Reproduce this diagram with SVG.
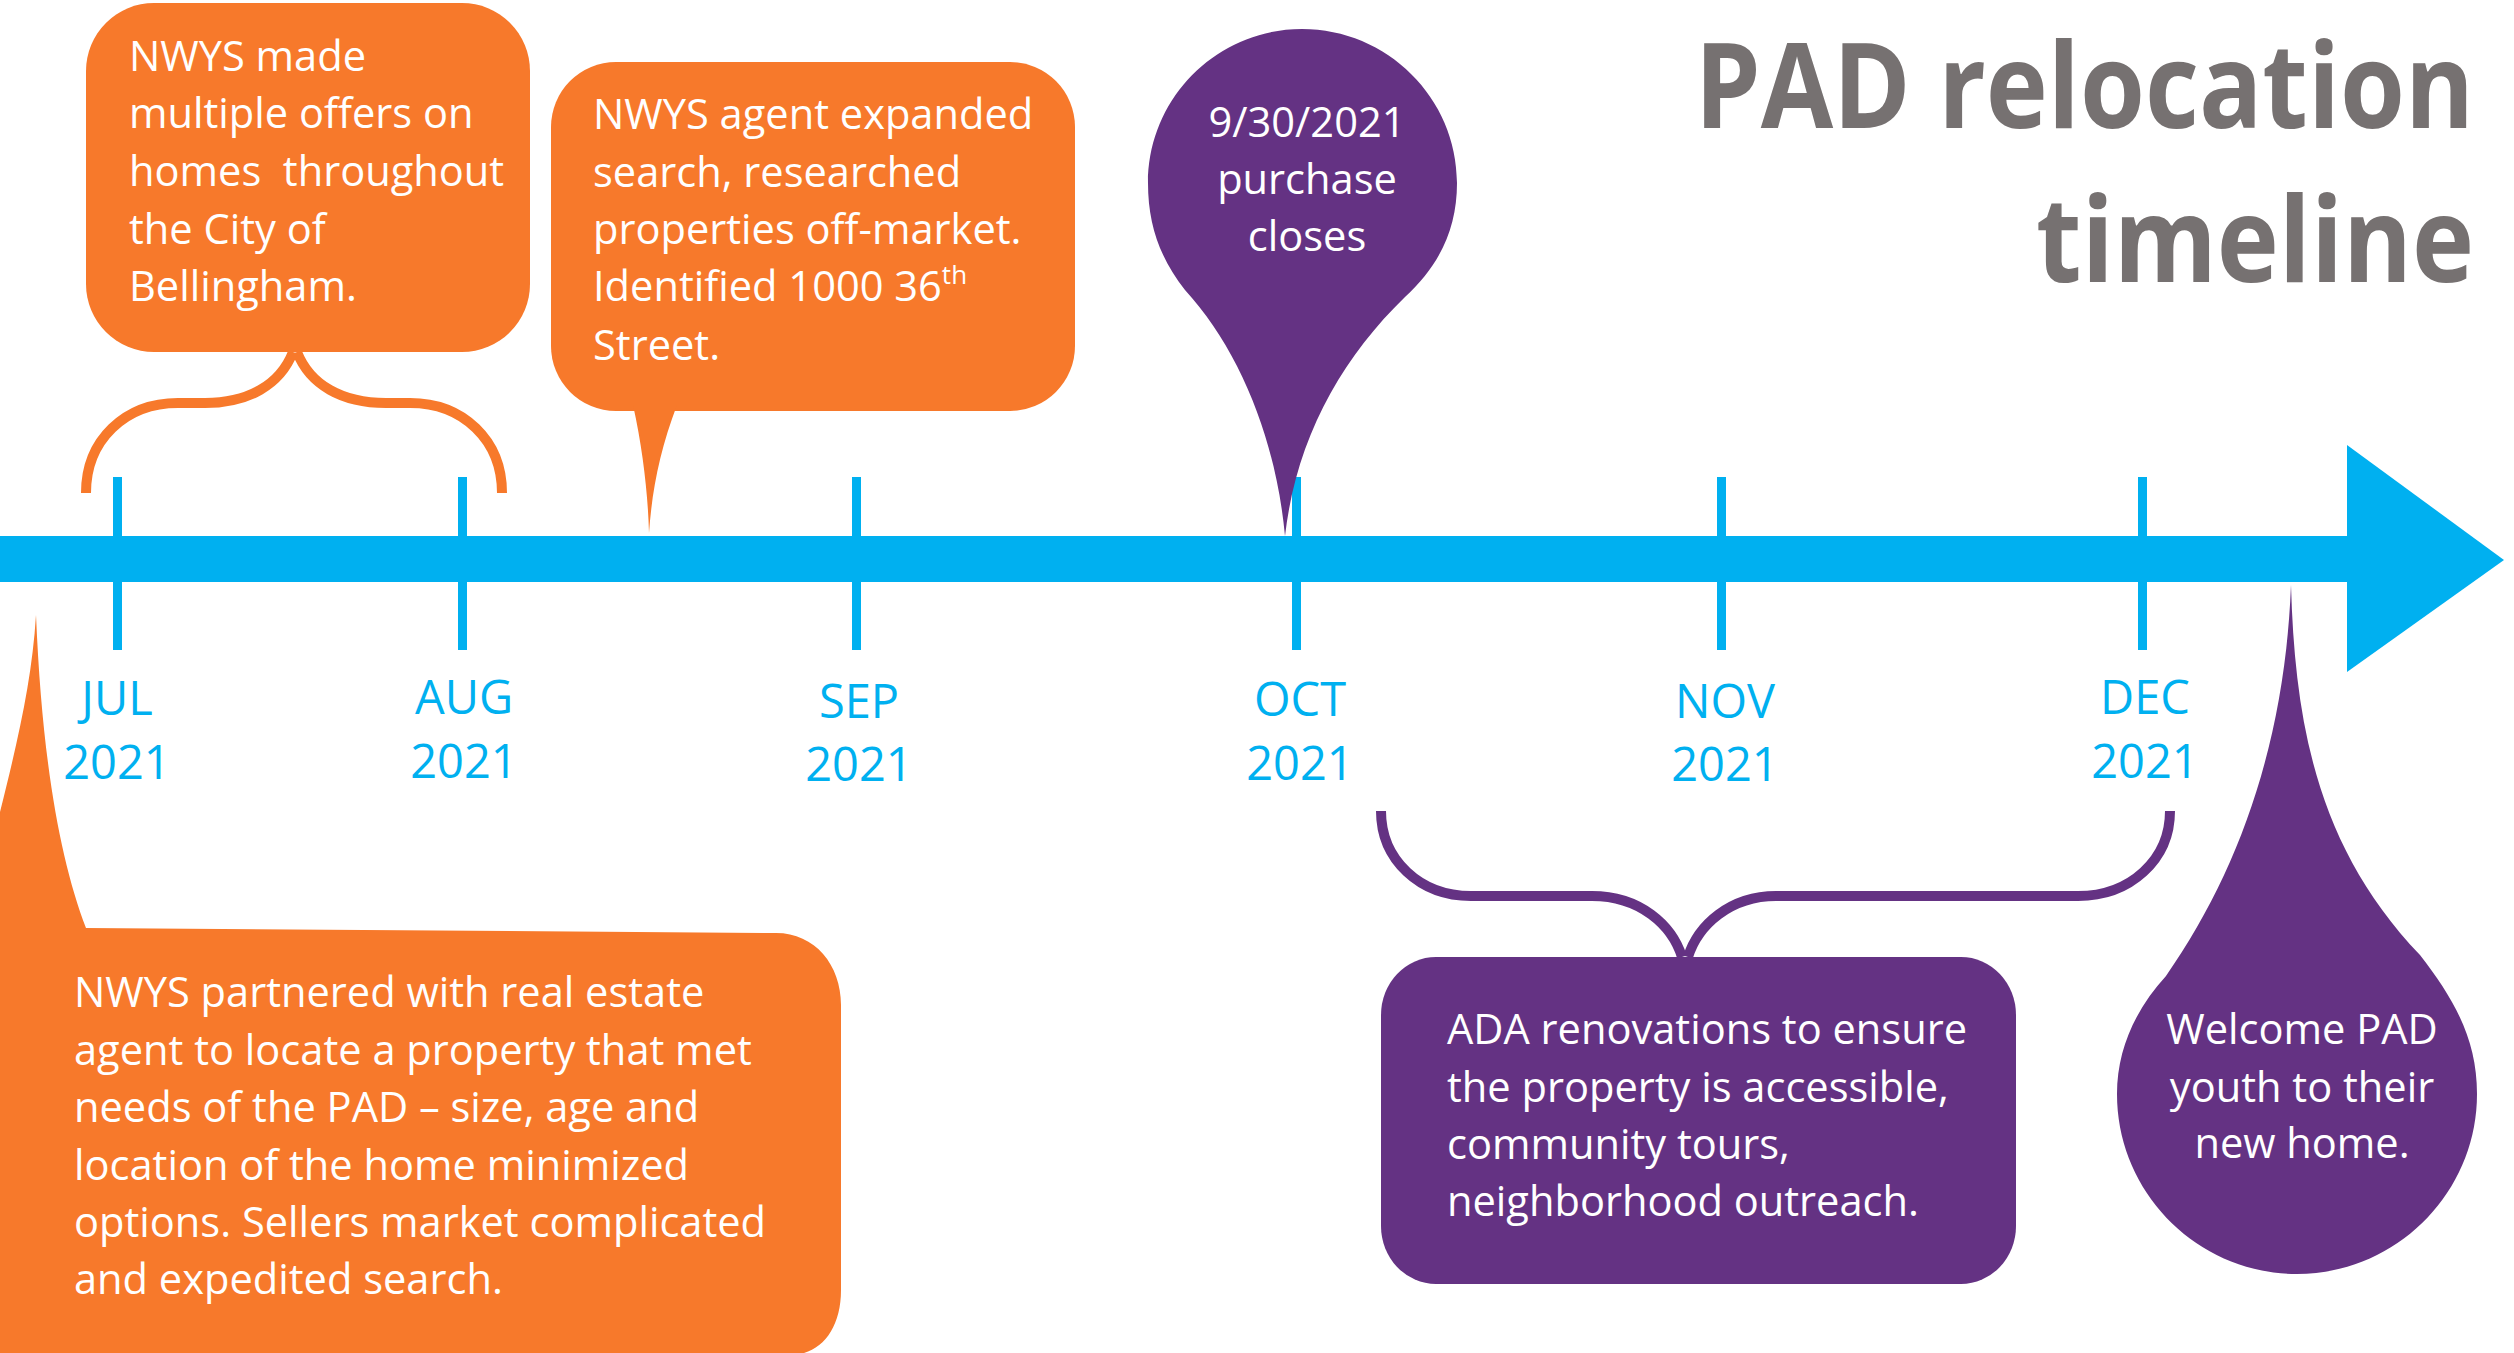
<svg xmlns="http://www.w3.org/2000/svg" width="2514" height="1353" viewBox="0 0 2514 1353">
<style>
.orange{fill:#F7792B}
.purple{fill:#643283}
.blue{fill:#00B0F0}
.body{font-family:"Open Sans","Noto Sans",sans-serif;font-size:41.6px;fill:#FFFFFF}
.month{font-family:"Open Sans","Noto Sans",sans-serif;font-size:47px;fill:#00B0F0;text-anchor:middle}
.title{font-family:"Open Sans","Noto Sans",sans-serif;font-size:118px;font-weight:bold;fill:#767171;text-anchor:end}
.braceO{fill:none;stroke:#F7792B;stroke-width:10}
.braceP{fill:none;stroke:#643283;stroke-width:10}
</style>
<rect width="2514" height="1353" fill="#FFFFFF"/>
<g id="title">
<text class="title" transform="translate(2474,128) scale(0.89,1)" x="0" y="0">PAD relocation</text>
<text class="title" transform="translate(2474,282) scale(0.89,1)" x="0" y="0">timeline</text>
</g>
<g id="connectors">
<path class="braceO" d="M86,493 C86,440 125,403 178,403 L205,403 C248,403 280,385 293,352 M297,352 C310,385 342,403 386,403 L410,403 C463,403 502,440 502,493"/>
<path class="braceP" d="M1381,811 C1381,860 1420,896 1471,896 L1592,896 C1640,896 1672,925 1682,957 M1688,957 C1698,925 1730,896 1776,896 L2078,896 C2130,896 2170,860 2170,811"/>
</g>
<g id="timeline-axis">
<rect class="blue" x="0" y="536" width="2350" height="46"/>
<polygon class="blue" points="2347,445 2504,560 2347,672"/>
<rect class="blue" x="113" y="477" width="9" height="173"/>
<rect class="blue" x="458" y="477" width="9" height="173"/>
<rect class="blue" x="852" y="477" width="9" height="173"/>
<rect class="blue" x="1292" y="477" width="9" height="173"/>
<rect class="blue" x="1717" y="477" width="9" height="173"/>
<rect class="blue" x="2138" y="477" width="9" height="173"/>
</g>
<g id="month-labels">
<text class="month" x="117" y="715">JUL</text><text class="month" x="117" y="779">2021</text>
<text class="month" x="464" y="714">AUG</text><text class="month" x="464" y="778">2021</text>
<text class="month" x="859" y="718">SEP</text><text class="month" x="859" y="781">2021</text>
<text class="month" x="1300" y="716">OCT</text><text class="month" x="1300" y="780">2021</text>
<text class="month" x="1725" y="718">NOV</text><text class="month" x="1725" y="781">2021</text>
<text class="month" x="2145" y="714">DEC</text><text class="month" x="2145" y="778">2021</text>
</g>
<g id="callout-offers">
<rect class="orange" x="86" y="3" width="444" height="349" rx="68" ry="68"/>
<text class="body" x="129" y="71">NWYS made</text>
<text class="body" x="129" y="128">multiple offers on</text>
<text class="body" x="129" y="186" xml:space="preserve">homes  throughout</text>
<text class="body" x="129" y="244">the City of</text>
<text class="body" x="129" y="301">Bellingham.</text>
</g>
<g id="callout-search">
<rect class="orange" x="551" y="62" width="524" height="349" rx="65" ry="65"/>
<path class="orange" d="M633,405 C643,450 648,495 649,533 C652,490 660,450 677,405 Z"/>
<text class="body" x="593" y="129">NWYS agent expanded</text>
<text class="body" x="593" y="187">search, researched</text>
<text class="body" x="593" y="244">properties off-market.</text>
<text class="body" x="593" y="301">Identified 1000 36<tspan font-size="26" dy="-17">th</tspan></text>
<text class="body" x="593" y="360">Street.</text>
</g>
<g id="pin-purchase">
<path class="purple" d="M1285,536 C1276,440 1240,350 1185,290 C1160,258 1148,225 1148,183 C1148,98 1217,29 1302,29 C1387,29 1457,98 1457,183 C1457,228 1440,265 1405,297 C1340,360 1296,440 1285,536 Z"/>
<text class="body" x="1307" y="137" text-anchor="middle">9/30/2021</text>
<text class="body" x="1307" y="194" text-anchor="middle">purchase</text>
<text class="body" x="1307" y="251" text-anchor="middle">closes</text>
</g>
<g id="callout-partner">
<path class="orange" d="M36,615 C42,760 60,860 86,928 L776,933 C815,933 841,965 841,1005 L841,1290 C841,1330 820,1355 790,1355 L-10,1355 L-10,812 L0,812 C18,740 32,680 36,615 Z"/>
<text class="body" x="74" y="1007">NWYS partnered with real estate</text>
<text class="body" x="74" y="1065">agent to locate a property that met</text>
<text class="body" x="74" y="1122">needs of the PAD – size, age and</text>
<text class="body" x="74" y="1180">location of the home minimized</text>
<text class="body" x="74" y="1237">options. Sellers market complicated</text>
<text class="body" x="74" y="1294">and expedited search.</text>
</g>
<g id="callout-ada">
<rect class="purple" x="1381" y="957" width="635" height="327" rx="55" ry="58"/>
<text class="body" x="1447" y="1044">ADA renovations to ensure</text>
<text class="body" x="1447" y="1102">the property is accessible,</text>
<text class="body" x="1447" y="1159">community tours,</text>
<text class="body" x="1447" y="1216">neighborhood outreach.</text>
</g>
<g id="drop-welcome">
<path class="purple" d="M2291,585 C2295,730 2320,850 2420,955 C2455,1000 2477,1040 2477,1094 C2477,1193 2396,1274 2297,1274 C2198,1274 2117,1193 2117,1094 C2117,1050 2135,1010 2166,976 C2240,870 2285,740 2291,585 Z"/>
<text class="body" x="2302" y="1044" text-anchor="middle">Welcome PAD</text>
<text class="body" x="2302" y="1102" text-anchor="middle">youth to their</text>
<text class="body" x="2302" y="1158" text-anchor="middle">new home.</text>
</g>
</svg>
